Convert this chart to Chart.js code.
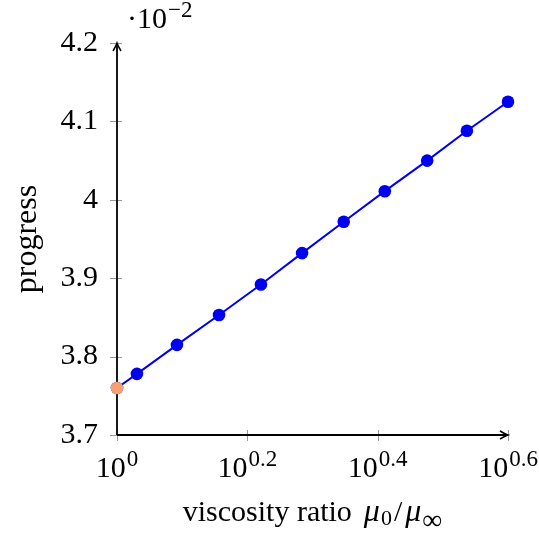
<!DOCTYPE html>
<html>
<head>
<meta charset="utf-8">
<script src="https://cdn.jsdelivr.net/npm/chart.js@4.4.1/dist/chart.umd.min.js"></script>
<style>
  html, body { margin: 0; padding: 0; background: #fff; }
  #wrap { width: 539px; height: 543px; position: relative; }
</style>
</head>
<body>
<div id="wrap"><canvas id="progressChart"></canvas></div>
<script>
// viscosity ratio mu0/mu_inf (log axis) and progress (x 10^-2)
const viscosityRatio = [1.0, 1.073, 1.236, 1.434, 1.663, 1.923, 2.228, 2.576, 2.992, 3.443, 3.981];
const progress = [3.760, 3.778, 3.815, 3.853, 3.892, 3.932, 3.972, 4.011, 4.050, 4.088, 4.125];
// the first point is highlighted
const baseRatio = [1.0];
const baseProgress = [3.760];
const xTickExponents = [0, 0.2, 0.4, 0.6];
const yTicks = [3.7, 3.8, 3.9, 4.0, 4.1, 4.2];

const FONT = '"Liberation Serif", "Times New Roman", serif';

const ctxEl = document.getElementById('progressChart');

// axes with arrows, gray tick marks, math-style labels
const axesPlugin = {
  id: 'axesPlugin',
  beforeDatasetsDraw(chart) {
    const { ctx, chartArea: a } = chart;
    const xs = chart.scales.x;
    const ys = chart.scales.y;
    ctx.save();
    // gray tick marks
    ctx.strokeStyle = '#9a9a9a';
    ctx.lineWidth = 1;
    yTicks.forEach(v => {
      const py = Math.round(ys.getPixelForValue(v)) + 0.5;
      ctx.beginPath();
      ctx.moveTo(a.left - 7, py);
      ctx.lineTo(a.left + 5, py);
      ctx.stroke();
    });
    xTickExponents.forEach(e => {
      const px = Math.round(xs.getPixelForValue(Math.pow(10, e))) + 0.5;
      ctx.beginPath();
      ctx.moveTo(px, a.bottom - 5);
      ctx.lineTo(px, a.bottom + 6);
      ctx.stroke();
    });
    // axis lines
    ctx.strokeStyle = '#000';
    ctx.lineWidth = 1.8;
    ctx.beginPath();
    ctx.moveTo(a.left, a.bottom);
    ctx.lineTo(a.left, a.top + 1);
    ctx.moveTo(a.left, a.bottom);
    ctx.lineTo(a.right - 1, a.bottom);
    ctx.stroke();
    // arrow heads
    ctx.lineWidth = 1.5;
    ctx.beginPath();
    ctx.moveTo(a.left - 4, a.top + 8);
    ctx.quadraticCurveTo(a.left - 1, a.top + 3, a.left, a.top);
    ctx.quadraticCurveTo(a.left + 1, a.top + 3, a.left + 4, a.top + 8);
    ctx.moveTo(a.right - 8, a.bottom - 4);
    ctx.quadraticCurveTo(a.right - 3, a.bottom - 1, a.right, a.bottom);
    ctx.quadraticCurveTo(a.right - 3, a.bottom + 1, a.right - 8, a.bottom + 4);
    ctx.stroke();
    ctx.restore();
  },
  afterDraw(chart) {
    const { ctx, chartArea: a } = chart;
    const xs = chart.scales.x;
    ctx.save();
    ctx.fillStyle = '#000';
    ctx.textBaseline = 'alphabetic';
    // x tick labels 10^e
    xTickExponents.forEach(e => {
      const px = xs.getPixelForValue(Math.pow(10, e));
      const base = '10';
      const sup = e === 0 ? '0' : e.toFixed(1);
      ctx.font = '30px ' + FONT;
      const wb = ctx.measureText(base).width;
      ctx.font = '23px ' + FONT;
      const ws = ctx.measureText(sup).width;
      const x0 = px - (wb + ws + 1) / 2;
      ctx.font = '30px ' + FONT;
      ctx.fillText(base, x0, 477);
      ctx.font = '23px ' + FONT;
      ctx.fillText(sup, x0 + wb + 1, 466);
    });
    // x axis title: viscosity ratio mu_0 / mu_inf
    const parts = [
      { t: 'viscosity ratio', f: '30px ' + FONT, dy: 0, gap: 0 },
      { t: 'μ', f: 'italic 32px ' + FONT, dy: 0, gap: 12 },
      { t: '0', f: '22px ' + FONT, dy: 4, gap: 1 },
      { t: '/', f: '30px ' + FONT, dy: 0, gap: 2 },
      { t: 'μ', f: 'italic 32px ' + FONT, dy: 0, gap: 3 },
      { t: '∞', f: '28px ' + FONT, dy: 8, gap: 1 }
    ];
    let total = 0;
    parts.forEach(p => { ctx.font = p.f; p.w = ctx.measureText(p.t).width; total += p.w + p.gap; });
    let cx = (a.left + a.right) / 2 - total / 2;
    parts.forEach(p => {
      ctx.font = p.f;
      cx += p.gap;
      ctx.fillText(p.t, cx, 521 + p.dy);
      cx += p.w;
    });
    // scale multiplier above y axis
    ctx.font = '30px ' + FONT;
    ctx.fillText('·10', 127, 28);
    const wm = ctx.measureText('·10').width;
    ctx.font = '23px ' + FONT;
    ctx.fillText('−2', 127 + wm + 1, 17);
    ctx.restore();
  }
};

new Chart(ctxEl, {
  type: 'line',
  data: {
    datasets: [
      {
        label: 'base',
        data: baseRatio.map((x, i) => ({ x: x, y: baseProgress[i] })),
        showLine: false,
        pointRadius: 6.3,
        pointBackgroundColor: '#f7a073',
        pointBorderColor: '#f7a073',
        pointBorderWidth: 0,
        clip: false,
        order: 0
      },
      {
        label: 'progress',
        data: viscosityRatio.map((x, i) => ({ x: x, y: progress[i] })),
        borderColor: '#0000f0',
        borderWidth: 2,
        pointRadius: 6.3,
        pointBackgroundColor: '#0000f0',
        pointBorderColor: '#0000f0',
        pointBorderWidth: 0,
        tension: 0,
        clip: false,
        order: 1
      }
    ]
  },
  options: {
    responsive: true,
    maintainAspectRatio: false,
    animation: false,
    layout: { padding: { left: 0, right: 31, top: 43, bottom: 0 } },
    plugins: {
      legend: { display: false },
      tooltip: { enabled: false }
    },
    scales: {
      x: {
        type: 'logarithmic',
        min: 1,
        max: Math.pow(10, 0.6),
        grid: { display: false, drawTicks: false },
        border: { display: false },
        ticks: { display: false },
        afterFit: (scale) => { scale.height = 108; }
      },
      y: {
        min: 3.7,
        max: 4.2,
        grid: { display: false, drawTicks: false },
        border: { display: false },
        ticks: {
          stepSize: 0.1,
          padding: 19,
          color: '#000',
          font: { family: FONT, size: 30 },
          callback: (v) => String(+v.toFixed(1))
        },
        title: {
          display: true,
          text: 'progress',
          color: '#000',
          font: { family: FONT, size: 32 },
          padding: { top: 8, bottom: 0 }
        },
        afterFit: (scale) => { scale.width = 117; }
      }
    }
  },
  plugins: [axesPlugin]
});
</script>
</body>
</html>
